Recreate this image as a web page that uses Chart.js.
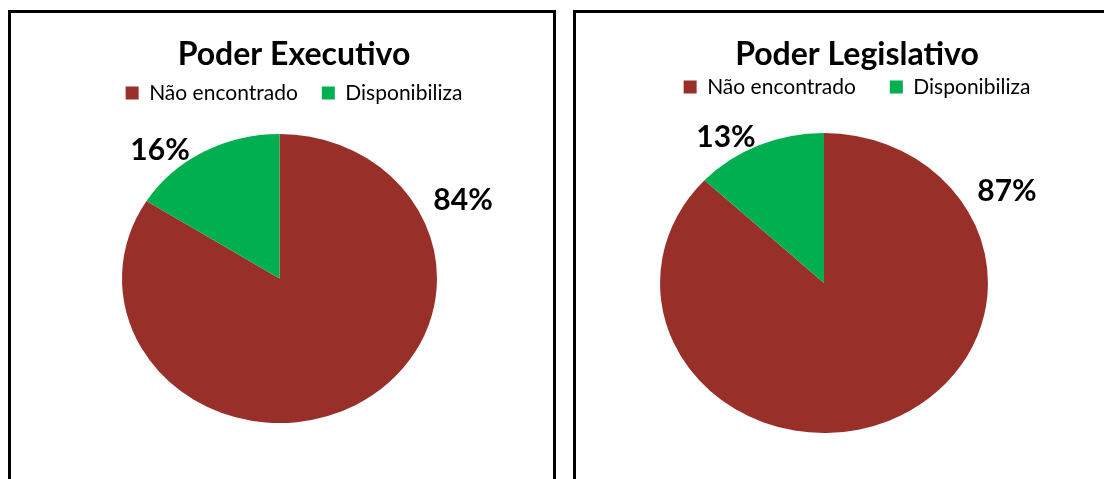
<!DOCTYPE html>
<html>
<head>
<meta charset="utf-8">
<script src="https://cdn.jsdelivr.net/npm/chart.js@4/dist/chart.umd.min.js"></script>
<style>
  html, body { margin: 0; padding: 0; background: #fff; overflow: hidden; }
  body { width: 1104px; height: 479px; position: relative; }
  .panel { position: absolute; border: 3px solid #000; box-sizing: border-box; z-index: 2; pointer-events: none; }
  canvas { position: absolute; z-index: 1; }
</style>
</head>
<body>
<div class="panel" style="left:8px; top:10px; width:548px; height:520px;"></div>
<div class="panel" style="left:573px; top:10px; width:600px; height:520px;"></div>
<canvas id="executivo" width="566" height="466" style="left:11px; top:13px;"></canvas>
<canvas id="legislativo" width="562" height="466" style="left:576px; top:13px;"></canvas>
<script>
const categories = ['Não encontrado', 'Disponibiliza']
const executivoValues = [84, 16]
const legislativoValues = [87, 13]
const sliceColors = ['#992F29', '#00B050']

// pie stretched sideways like the original, labels put by angle around the ellipse
const ellipsePlugin = {
    id: 'ellipse',
    beforeDatasetsDraw(chart, args, o) {
        const arc = chart.getDatasetMeta(0).data[0]
        const ctx = chart.ctx
        ctx.save()
        ctx.translate(arc.x, 0)
        ctx.scale(o.sx, 1)
        ctx.translate(-arc.x, 0)
    },
    afterDatasetsDraw(chart, args, o) {
        const ctx = chart.ctx
        ctx.restore()
        const values = chart.data.datasets[0].data
        ctx.save()
        ctx.font = 'bold 30px Lato'
        ctx.fillStyle = '#000'
        ctx.textAlign = 'center'
        ctx.textBaseline = 'middle'
        chart.getDatasetMeta(0).data.forEach((arc, i) => {
            const a = o.labelAngle[i] * Math.PI / 180
            const r = arc.outerRadius * o.labelRadius[i]
            ctx.fillText(values[i] + '%', arc.x + Math.sin(a) * r * o.sx, arc.y - Math.cos(a) * r + 2)
        })
        ctx.restore()
    }
}

function pie_chart(id, title, values, o) {
    const ctx = document.getElementById(id).getContext('2d')
    return new Chart(ctx, {
        type: 'pie',
        data: {
            labels: categories,
            datasets: [{
                data: values,
                backgroundColor: sliceColors,
                borderWidth: 0,
                radius: o.radius,
            }]
        },
        plugins: [ellipsePlugin],
        options: {
            responsive: false,
            animation: false,
            events: [],
            layout: { padding: { bottom: o.bottom } },
            plugins: {
                title: {
                    display: true,
                    text: title,
                    color: '#000',
                    font: { family: 'Lato', size: 32, weight: 'bold', lineHeight: 1.2 },
                    padding: { top: o.titleTop, bottom: o.titleBottom },
                },
                subtitle: {
                    display: true,
                    text: '',
                    position: 'right',
                    fullSize: false,
                    font: { size: 1, lineHeight: 1 },
                    padding: { top: o.shift, bottom: 0 },
                },
                legend: {
                    position: 'top',
                    labels: {
                        color: '#000',
                        boxWidth: 13,
                        boxHeight: 13,
                        padding: o.legendPad,
                        font: { family: 'Lato', size: 21 },
                    }
                },
                tooltip: { enabled: false },
                ellipse: {
                    sx: o.sx,
                    labelAngle: o.labelAngle,
                    labelRadius: o.labelRadius,
                }
            }
        }
    })
}

pie_chart('executivo', 'Poder Executivo', executivoValues, {
    radius: 144.5, bottom: 35.5, titleTop: 22.8, titleBottom: -15.7, shift: 28, legendPad: 24,
    sx: 1.09, labelAngle: [64.6, -40], labelRadius: [1.29, 1.18]
})

pie_chart('legislativo', 'Poder Legislativo', legislativoValues, {
    radius: 150, bottom: 20.5, titleTop: 22.8, titleBottom: -31.7, shift: 65, legendPad: 34,
    sx: 1.093, labelAngle: [60.7, -31.2], labelRadius: [1.28, 1.154]
})
</script>
</body>
</html>
